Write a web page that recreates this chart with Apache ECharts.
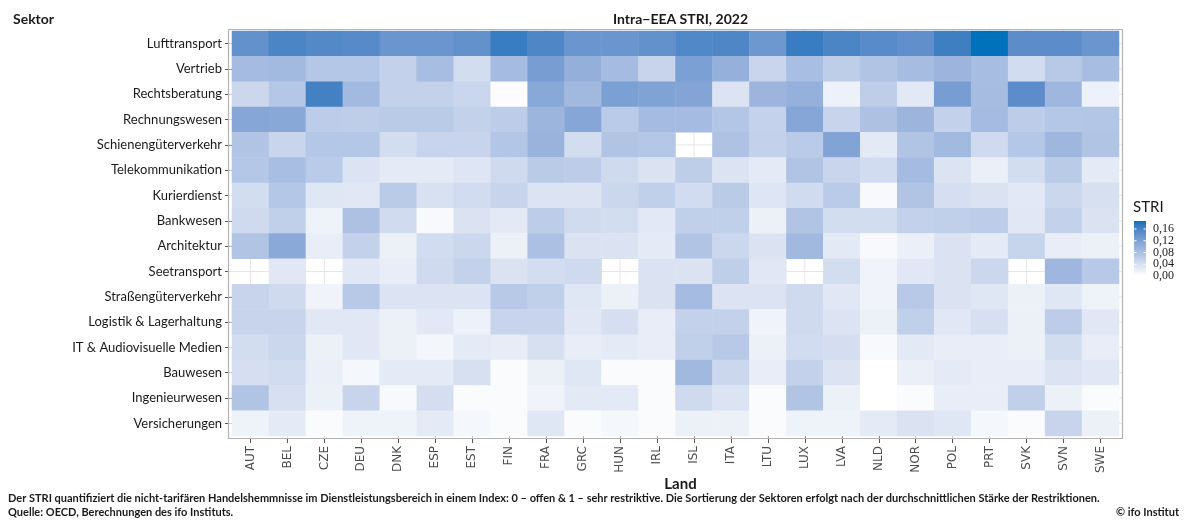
<!DOCTYPE html>
<html><head><meta charset="utf-8">
<script src="https://cdn.jsdelivr.net/npm/echarts@6/dist/echarts.min.js"></script>
<style>html,body{margin:0;padding:0;background:#fff}#chart{width:1185px;height:522px}</style>
</head><body><div id="chart"></div>
<script>
const countries = ['AUT','BEL','CZE','DEU','DNK','ESP','EST','FIN','FRA','GRC','HUN','IRL','ISL','ITA','LTU','LUX','LVA','NLD','NOR','POL','PRT','SVK','SVN','SWE'];
const sectors = ['Lufttransport','Vertrieb','Rechtsberatung','Rechnungswesen','Schienengüterverkehr','Telekommunikation','Kurierdienst','Bankwesen','Architektur','Seetransport','Straßengüterverkehr','Logistik & Lagerhaltung','IT & Audiovisuelle Medien','Bauwesen','Ingenieurwesen','Versicherungen'];
const legendTicks = [0, 0.04, 0.08, 0.12, 0.16];
const legendTickLabels = ['0,00','0,04','0,08','0,12','0,16'];

//                     AUT   BEL   CZE   DEU   DNK   ESP   EST   FIN   FRA   GRC   HUN   IRL   ISL   ITA   LTU   LUX   LVA   NLD   NOR   POL   PRT   SVK   SVN   SWE
const lufttransport = [0.142,0.159,0.153,0.151,0.136,0.136,0.142,0.170,0.156,0.136,0.136,0.142,0.155,0.156,0.134,0.170,0.159,0.150,0.144,0.167,0.187,0.147,0.147,0.136];
const vertrieb      = [0.085,0.087,0.070,0.070,0.057,0.083,0.042,0.085,0.125,0.102,0.085,0.053,0.122,0.100,0.052,0.082,0.062,0.074,0.084,0.093,0.083,0.043,0.068,0.083];
const rechtsberatung= [0.049,0.070,0.164,0.087,0.057,0.057,0.051,0.003,0.111,0.088,0.122,0.118,0.116,0.034,0.093,0.100,0.017,0.062,0.028,0.125,0.084,0.147,0.091,0.017];
const rechnungswesen= [0.113,0.111,0.063,0.062,0.065,0.065,0.057,0.063,0.094,0.113,0.066,0.085,0.085,0.071,0.056,0.113,0.053,0.077,0.093,0.057,0.085,0.063,0.070,0.071];
const schienen      = [0.074,0.052,0.070,0.070,0.042,0.053,0.053,0.071,0.096,0.042,0.074,0.070,null, 0.076,0.057,0.066,0.117,0.027,0.074,0.087,0.045,0.070,0.091,0.074];
const telekom       = [0.070,0.082,0.066,0.034,0.025,0.025,0.032,0.045,0.065,0.063,0.045,0.035,0.062,0.034,0.026,0.074,0.052,0.043,0.085,0.034,0.019,0.042,0.065,0.025];
const kurier        = [0.042,0.070,0.031,0.029,0.065,0.037,0.043,0.053,0.034,0.034,0.050,0.060,0.043,0.065,0.032,0.044,0.066,0.007,0.074,0.040,0.035,0.028,0.050,0.039];
const bank          = [0.045,0.060,0.016,0.077,0.044,0.007,0.035,0.027,0.063,0.044,0.042,0.028,0.060,0.059,0.018,0.074,0.042,0.042,0.057,0.060,0.063,0.029,0.057,0.035];
const architektur   = [0.074,0.110,0.022,0.057,0.018,0.043,0.050,0.018,0.079,0.035,0.035,0.025,0.074,0.050,0.035,0.088,0.027,0.007,0.019,0.035,0.025,0.054,0.022,0.018];
const seetransport  = [null, 0.029,null, 0.029,0.022,0.045,0.057,0.035,0.042,0.046,null, 0.035,0.035,0.061,0.029,null, 0.042,0.014,0.029,0.035,0.050,null, 0.091,0.068];
const strasse       = [0.053,0.046,0.014,0.068,0.034,0.034,0.034,0.068,0.060,0.031,0.018,0.035,0.085,0.034,0.034,0.046,0.029,0.014,0.068,0.035,0.031,0.018,0.031,0.016];
const logistik      = [0.053,0.053,0.029,0.029,0.018,0.028,0.017,0.053,0.053,0.029,0.040,0.022,0.057,0.057,0.014,0.046,0.034,0.018,0.060,0.029,0.039,0.018,0.063,0.029];
const itMedien      = [0.042,0.050,0.018,0.029,0.018,0.011,0.025,0.023,0.039,0.022,0.025,0.022,0.060,0.068,0.018,0.043,0.041,0.007,0.027,0.022,0.022,0.018,0.042,0.022];
const bauwesen      = [0.040,0.043,0.019,0.010,0.025,0.025,0.039,0.005,0.018,0.031,0.005,0.005,0.088,0.050,0.022,0.057,0.034,0.000,0.019,0.025,0.022,0.022,0.034,0.029];
const ingenieur     = [0.074,0.039,0.018,0.053,0.007,0.041,0.005,0.005,0.014,0.027,0.027,0.005,0.046,0.034,0.005,0.074,0.018,0.000,0.005,0.022,0.022,0.060,0.018,0.005];
const versicherung  = [0.016,0.025,0.005,0.016,0.016,0.025,0.010,0.005,0.031,0.005,0.010,0.005,0.018,0.018,0.005,0.016,0.016,0.025,0.035,0.031,0.010,0.005,0.053,0.018];

const rows = [lufttransport, vertrieb, rechtsberatung, rechnungswesen, schienen, telekom, kurier, bank, architektur, seetransport, strasse, logistik, itMedien, bauwesen, ingenieur, versicherung];

// colour scale spans the data range, as in the original
let scaleMax = 0;
rows.forEach(r => r.forEach(v => { if (v !== null && v > scaleMax) scaleMax = v; }));

// --- colour helpers: interpolate white -> blue in CIE Lab (like ggplot2) ---
function s2l(c){c/=255;return c<=0.04045?c/12.92:Math.pow((c+0.055)/1.055,2.4);}
function l2s(c){c=c<=0.0031308?12.92*c:1.055*Math.pow(c,1/2.4)-0.055;return Math.round(Math.max(0,Math.min(1,c))*255);}
function hex2lab(h){
  const r=s2l(parseInt(h.substr(1,2),16)),g=s2l(parseInt(h.substr(3,2),16)),b=s2l(parseInt(h.substr(5,2),16));
  let X=(0.4124*r+0.3576*g+0.1805*b)/0.95047,Y=(0.2126*r+0.7152*g+0.0722*b),Z=(0.0193*r+0.1192*g+0.9505*b)/1.08883;
  const f=t=>t>0.008856?Math.cbrt(t):7.787*t+16/116;
  const fx=f(X),fy=f(Y),fz=f(Z);
  return [116*fy-16,500*(fx-fy),200*(fy-fz)];
}
function lab2hex(L,a,b){
  const fy=(L+16)/116,fx=fy+a/500,fz=fy-b/200;
  const fi=t=>t*t*t>0.008856?t*t*t:(t-16/116)/7.787;
  const X=fi(fx)*0.95047,Y=fi(fy),Z=fi(fz)*1.08883;
  const r=3.2406*X-1.5372*Y-0.4986*Z,g=-0.9689*X+1.8758*Y+0.0415*Z,bb=0.0557*X-0.2040*Y+1.0570*Z;
  return '#'+[l2s(r),l2s(g),l2s(bb)].map(v=>v.toString(16).padStart(2,'0')).join('');
}
const lowLab=hex2lab('#ffffff'), highLab=hex2lab('#0071bb');
const rampColors=[];
for(let i=0;i<=20;i++){const t=i/20;rampColors.push(lab2hex(lowLab[0]+(highLab[0]-lowLab[0])*t,lowLab[1]+(highLab[1]-lowLab[1])*t,lowLab[2]+(highLab[2]-lowLab[2])*t));}

const heatData=[];
rows.forEach((row,r)=>row.forEach((v,c)=>{ if(v!==null) heatData.push([c,r,v]); }));

const chart=echarts.init(document.getElementById('chart'),null,{renderer:'canvas'});
const G={left:232,right:66,top:31,bottom:86};
const plotW=1185-G.left-G.right;

// legend colour bar geometry
const bar={x:1134,y:221,w:12,h:55};
const gradStops=rampColors.map((c,i)=>({offset:1-i/20,color:c}));
const legendEls=[
  {type:'text',left:1133,top:200,style:{text:'STRI',font:'15px Lato',fill:'#1a1a1a'}},
  {type:'rect',shape:{x:bar.x,y:bar.y,width:bar.w,height:bar.h},style:{fill:new echarts.graphic.LinearGradient(0,0,0,1,gradStops)}}
];
legendTicks.forEach((v,i)=>{
  const y=bar.y+bar.h-v/scaleMax*bar.h;
  legendEls.push({type:'line',shape:{x1:bar.x,y1:y,x2:bar.x+2.5,y2:y},style:{stroke:'#fff',lineWidth:1}});
  legendEls.push({type:'line',shape:{x1:bar.x+bar.w-2.5,y1:y,x2:bar.x+bar.w,y2:y},style:{stroke:'#fff',lineWidth:1}});
  legendEls.push({type:'text',x:bar.x+19,y:y,style:{text:legendTickLabels[i],font:'12px "Liberation Serif"',fill:'#1a1a1a',textVerticalAlign:'middle'}});
});

chart.setOption({
  animation:false,
  backgroundColor:'#fff',
  title:[
    {text:'Sektor',left:8,top:7,textStyle:{fontFamily:'Lato',fontSize:14,fontWeight:'bold',color:'#1a1a1a'}},
    {text:'Intra\u2212EEA STRI, 2022',left:G.left+plotW/2,top:7,textAlign:'center',textStyle:{fontFamily:'Lato',fontSize:14,fontWeight:'bold',color:'#1a1a1a'}},
    {text:'Land',left:G.left+plotW/2,top:472,textAlign:'center',textStyle:{fontFamily:'Lato',fontSize:15,fontWeight:'bold',color:'#1a1a1a'}}
  ],
  grid:G,
  xAxis:{type:'category',data:countries,position:'bottom',
    axisLine:{show:false},splitLine:{show:false},
    axisTick:{show:true,alignWithLabel:true,length:7,lineStyle:{color:'#555'}},
    axisLabel:{rotate:90,margin:10,fontFamily:'DejaVu Sans',fontSize:12,color:'#4d4d4d'}},
  yAxis:{type:'category',data:sectors,inverse:true,
    axisLine:{show:false},splitLine:{show:false},
    axisTick:{show:true,alignWithLabel:true,length:7,lineStyle:{color:'#555'}},
    axisLabel:{margin:10,fontFamily:'Lato',fontSize:13,color:'#1a1a1a'}},
  visualMap:{show:false,type:'continuous',min:0,max:scaleMax,seriesIndex:0,inRange:{color:rampColors}},
  graphic:[
    {type:'rect',shape:{x:228.5,y:29.5,width:894,height:409},style:{fill:null,stroke:'#b3b3b3',lineWidth:1.2},z:100,silent:true},
    ...legendEls,
    {type:'text',left:8,top:493,style:{text:'Der STRI quantifiziert die nicht-tarifären Handelshemmnisse im Dienstleistungsbereich in einem Index: 0 – offen & 1 – sehr restriktive. Die Sortierung der Sektoren erfolgt nach der durchschnittlichen Stärke der Restriktionen.',font:'bold 11px Lato',fill:'#1a1a1a'}},
    {type:'text',left:8,top:507,style:{text:'Quelle: OECD, Berechnungen des ifo Instituts.',font:'bold 11px Lato',fill:'#1a1a1a'}},
    {type:'text',right:6,top:507,style:{text:'© ifo Institut',font:'bold 11px Lato',fill:'#1a1a1a'}}
  ],
  series:[
    {type:'heatmap',data:heatData,z:3,emphasis:{disabled:true},itemStyle:{borderWidth:0}},
    {type:'custom',z:1,silent:true,data:countries.map((c,i)=>[i,0]),
      renderItem:(params,api)=>{const p=api.coord([api.value(0),api.value(1)]);const cs=params.coordSys;
        return {type:'line',shape:{x1:p[0],y1:cs.y-2,x2:p[0],y2:cs.y+cs.height+2},style:{stroke:'#e6e6e6',lineWidth:1}};}},
    {type:'custom',z:1,silent:true,data:sectors.map((s,i)=>[0,i]),
      renderItem:(params,api)=>{const p=api.coord([api.value(0),api.value(1)]);const cs=params.coordSys;
        return {type:'line',shape:{x1:cs.x-3,y1:p[1],x2:cs.x+cs.width+3,y2:p[1]},style:{stroke:'#e6e6e6',lineWidth:1}};}}
  ]
});
</script></body></html>
